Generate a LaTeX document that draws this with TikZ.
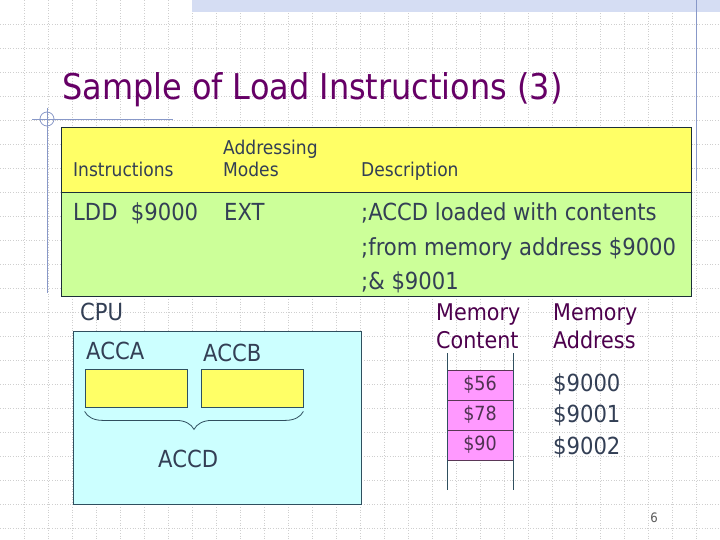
\documentclass[tikz,border=0pt]{standalone}
\usepackage{fontspec}
\setmainfont{DejaVu Sans Condensed}
\usetikzlibrary{decorations.pathreplacing}
\definecolor{titlecol}{HTML}{660066}
\definecolor{txtcol}{HTML}{333F55}
\definecolor{purpcol}{HTML}{4D004D}
\definecolor{hdrcol}{HTML}{FFFF66}
\definecolor{bodycol}{HTML}{CCFF99}
\definecolor{cpucol}{HTML}{CCFFFF}
\definecolor{cellcol}{HTML}{FF99FF}
\definecolor{edgecol}{HTML}{2F4F5F}
\definecolor{decocol}{HTML}{8898C8}
\definecolor{gridcol}{HTML}{CFCFCF}
\definecolor{bandcol}{HTML}{D5DDF3}
\tikzset{
  gridline/.style={gridcol,dotted,line width=0.6pt},
  deco/.style={decocol,line width=0.8pt},
  txt/.style={anchor=base west,inner sep=0pt,text=txtcol,font=\fontsize{23.5}{28}\selectfont},
  hdr/.style={anchor=base west,inner sep=0pt,text=txtcol,font=\fontsize{19}{23}\selectfont},
  ptxt/.style={anchor=base west,inner sep=0pt,text=purpcol,font=\fontsize{23}{27}\selectfont},
  reg/.style={draw=edgecol,fill=hdrcol,line width=0.8pt},
  cell/.style={draw=edgecol!70!purple,fill=cellcol,line width=0.8pt,minimum width=66pt,minimum height=30pt,inner sep=0pt,text=txtcol!80!purple,font=\fontsize{19.5}{23}\selectfont},
  brc/.style={decorate,decoration={brace,amplitude=18pt},edgecol,line width=0.8pt},
}
\begin{document}
\begin{tikzpicture}[x=1pt,y=-1pt]
\useasboundingbox (0,0) rectangle (720,540);
\fill[white] (0,0) rectangle (720,540);
% background grid
\foreach \gx in {24,48,...,696} \draw[gridline] (\gx,0) -- (\gx,540);
\foreach \gy in {24,48,...,528} \draw[gridline] (0,\gy) -- (720,\gy);
% top band
\fill[bandcol] (192,0) rectangle (720,12);
% decorative lines
\draw[deco] (696,0) -- (696,181);
\draw[deco] (47,108) -- (47,293);
\draw[deco] (32,119) -- (173,119);
\draw[deco] (47,119) circle (7);
% title
\node[anchor=base west,inner sep=0pt,text=titlecol,font=\fontsize{35.5}{40}\selectfont] (title) at (62,100) {Sample of Load Instructions (3)};
% table
\fill[hdrcol] (61,127) rectangle (691,192);
\fill[bodycol] (61,192) rectangle (691,296);
\draw[edgecol!60!black,line width=0.9pt] (61,127) rectangle (691,296);
\draw[edgecol!60!black,line width=0.9pt] (61,192) -- (691,192);
\node[hdr] (hinstr) at (73,177) {Instructions};
\node[hdr] (hmode1) at (223,155) {Addressing};
\node[hdr] (hmode2) at (223,177) {Modes};
\node[hdr] (hdesc) at (361,177) {Description};
\node[txt] (ldd) at (73,221) {LDD\ \ \$9000};
\node[txt] (ext) at (224,221) {EXT};
\node[txt] (d1) at (361,221) {;ACCD loaded with contents};
\node[txt] (d2) at (361,255) {;from memory address \$9000};
\node[txt] (d3) at (361,289) {;\& \$9001};
% CPU
\node[txt] (cpulbl) at (80,320) {CPU};
\draw[edgecol,fill=cpucol,line width=0.9pt] (73,331) rectangle (361,504);
\node[txt] (accalbl) at (86,359) {ACCA};
\node[txt] (accblbl) at (203,361) {ACCB};
\node[reg,minimum width=102pt,minimum height=38pt,inner sep=0pt] (acca) at (136,388) {};
\node[reg,minimum width=102pt,minimum height=38pt,inner sep=0pt] (accb) at (252,388) {};
\draw[brc] ([yshift=-4pt]accb.south east) -- ([yshift=-4pt]acca.south west);
\node[txt] (accd) at (158,467) {ACCD};
% memory
\node[ptxt] (mc1) at (436,320) {Memory};
\node[ptxt] (mc2) at (436,348) {Content};
\node[ptxt] (ma1) at (553,320) {Memory};
\node[ptxt] (ma2) at (553,348) {Address};
\node[cell] (m1) at (480,385) {\$56};
\node[cell] (m2) at (480,415) {\$78};
\node[cell] (m3) at (480,445) {\$90};
\coordinate (lt) at (447,353);
\coordinate (lb) at (447,490);
\coordinate (rt) at (513,353);
\coordinate (rb) at (513,490);
\draw[edgecol,line width=0.9pt] (lt) -- (lb);
\draw[edgecol,line width=0.9pt] (rt) -- (rb);
\node[txt] (a1) at (553,391) {\$9000};
\node[txt] (a2) at (553,422) {\$9001};
\node[txt] (a3) at (553,454) {\$9002};
\node[anchor=base,inner sep=0pt,text=black!65,font=\fontsize{13}{15}\selectfont] (pg) at (654,522) {6};
\end{tikzpicture}
\end{document}
